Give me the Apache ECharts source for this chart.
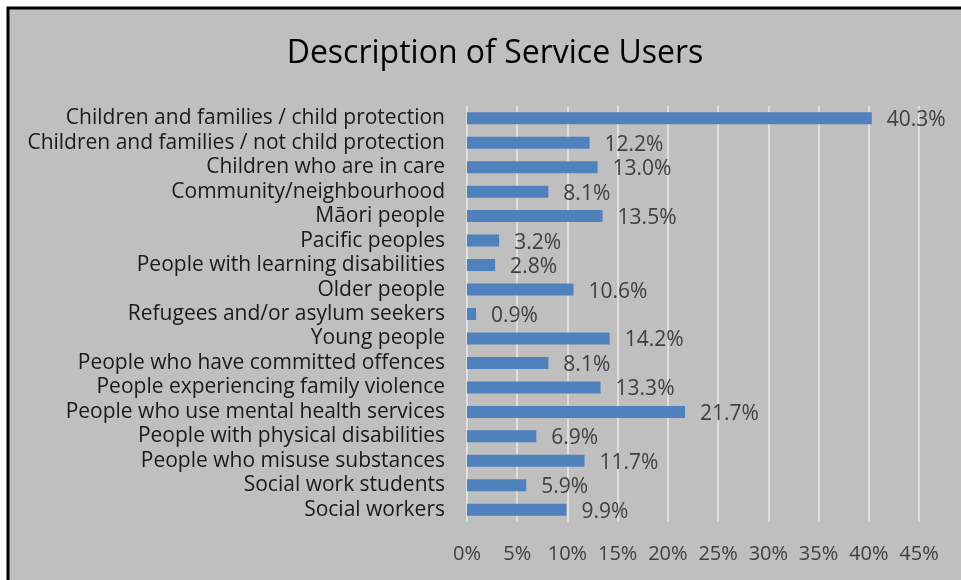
<!DOCTYPE html>
<html>
<head>
<meta charset="utf-8">
<script src="https://cdn.jsdelivr.net/npm/echarts@6/dist/echarts.min.js"></script>
<style>
  html, body { margin: 0; padding: 0; background: #ffffff; }
  #chart { width: 961px; height: 580px; }
</style>
</head>
<body>
<div id="chart"></div>
<script>
// Service user groups, top to bottom
const categories = [
  'Children and families / child protection',
  'Children and families / not child protection',
  'Children who are in care',
  'Community/neighbourhood',
  'Māori people',
  'Pacific peoples',
  'People with learning disabilities',
  'Older people',
  'Refugees and/or asylum seekers',
  'Young people',
  'People who have committed offences',
  'People experiencing family violence',
  'People who use mental health services',
  'People with physical disabilities',
  'People who misuse substances',
  'Social work students',
  'Social workers'
];
// Percentage of respondents working with each group
const shares = [40.3, 12.2, 13.0, 8.1, 13.5, 3.2, 2.8, 10.6, 0.9, 14.2, 8.1, 13.3, 21.7, 6.9, 11.7, 5.9, 9.9];
// Axis ticks in percent
const tickValues = [0, 5, 10, 15, 20, 25, 30, 35, 40, 45];

const FONT = '"Open Sans", Lato, sans-serif';
const chart = echarts.init(document.getElementById('chart'));
chart.setOption({
  backgroundColor: '#ffffff',
  animation: false,
  graphic: [{
    type: 'rect',
    z: -10,
    shape: { x: 8, y: 8, width: 980, height: 600 },
    style: { fill: '#bfbfbf', stroke: '#000000', lineWidth: 3 }
  }],
  title: {
    text: 'Description of Service Users',
    left: 490,
    top: 33,
    textAlign: 'center',
    textStyle: { fontFamily: FONT, fontSize: 32, fontWeight: 'normal', color: '#000000' }
  },
  grid: { left: 467, right: 42, top: 106, bottom: 58, containLabel: false },
  xAxis: {
    type: 'value',
    min: tickValues[0],
    max: tickValues[tickValues.length - 1],
    interval: 5,
    axisLine: { show: false },
    axisTick: { show: false },
    splitLine: { show: true, lineStyle: { color: '#dedede', width: 2 } },
    axisLabel: {
      margin: 22,
      fontFamily: FONT, fontSize: 20, color: '#404040',
      formatter: v => v + '%'
    }
  },
  yAxis: {
    type: 'category',
    inverse: true,
    data: categories,
    axisLine: { show: false },
    axisTick: { show: false },
    axisLabel: {
      interval: 0, margin: 22, padding: [3, 0, 0, 0],
      fontFamily: FONT, fontSize: 21, color: '#1a1a1a'
    }
  },
  series: [{
    type: 'bar',
    data: shares,
    barWidth: 12,
    itemStyle: { color: '#4f81bd' },
    label: {
      show: true,
      position: 'right',
      distance: 15,
      offset: [0, 2],
      fontFamily: FONT, fontSize: 21, color: '#404040',
      formatter: p => p.value.toFixed(1) + '%'
    }
  }]
});
</script>
</body>
</html>
